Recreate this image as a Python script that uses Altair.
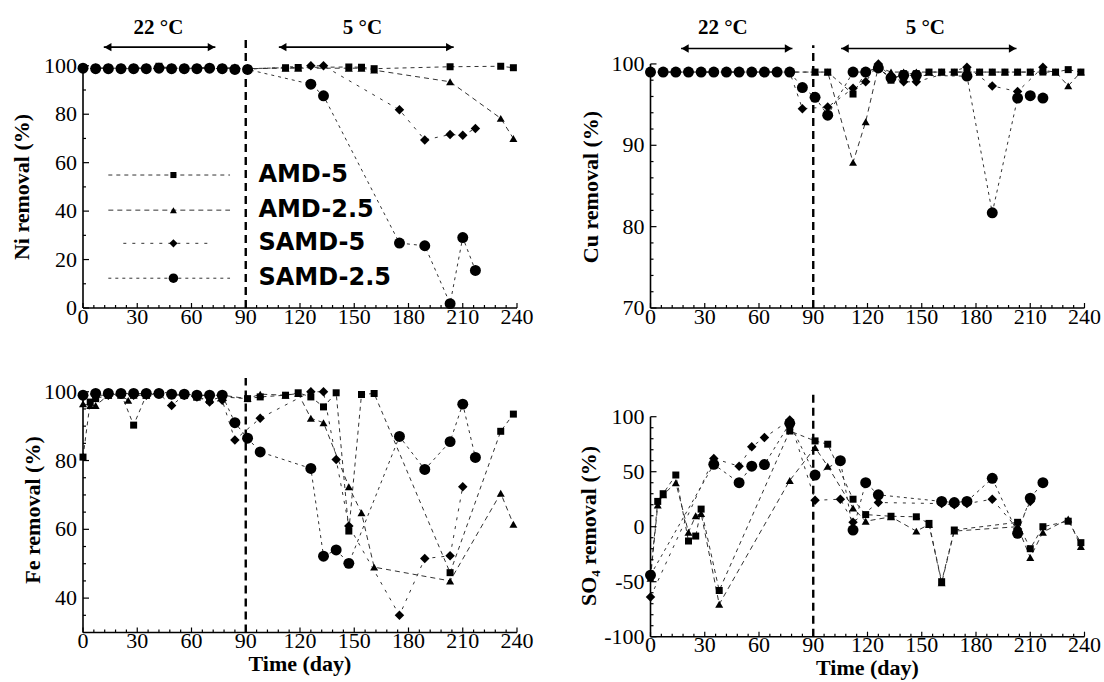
import altair as alt
import pandas as pd

SERIES = ["AMD-5", "AMD-2.5", "SAMD-5", "SAMD-2.5"]
SHAPES = ["square", "triangle-up", "diamond", "circle"]
SIZES = [49, 64, 90, 120]
DASHES = [[4, 4], [5, 4], [3, 6], [3, 4]]

SERIF = "Liberation Serif"
SANS = "DejaVu Sans"

# ---------------- Ni removal (%) ----------------
NI_AMD5_DAYS = [0, 7, 14, 21, 28, 35, 42, 49, 56, 63, 70, 77, 84, 91, 112, 119, 147, 154, 161, 203, 231, 238]
NI_AMD5 = [99, 99, 99, 99, 99, 99, 99.8, 99, 99, 99, 99.3, 99, 99, 98.8, 99.2, 99.3, 99.5, 99.4, 98.8, 99.6, 99.8, 99.2]
NI_AMD25_DAYS = [0, 7, 14, 21, 28, 35, 42, 49, 56, 63, 70, 77, 84, 91, 112, 119, 147, 154, 161, 203, 231, 238]
NI_AMD25 = [99, 99, 99, 99, 99, 99, 99.5, 99, 99, 99, 99.6, 99, 99, 98.8, 99, 99, 99, 99, 98.2, 93.4, 78.3, 70]
NI_SAMD5_DAYS = [0, 7, 14, 21, 28, 35, 42, 49, 56, 63, 70, 77, 84, 91, 126, 133, 175, 189, 203, 210, 217]
NI_SAMD5 = [99, 99, 99, 99, 99, 99, 99, 99, 99, 99, 99, 99, 99, 98.6, 100, 100, 81.8, 69.4, 71.6, 71.3, 74.1]
NI_SAMD25_DAYS = [0, 7, 14, 21, 28, 35, 42, 49, 56, 63, 70, 77, 84, 91, 126, 133, 175, 189, 203, 210, 217]
NI_SAMD25 = [99, 98.8, 98.8, 98.8, 98.8, 98.8, 99, 98.8, 98.8, 98.8, 99, 98.8, 98.5, 98.5, 92.4, 87.6, 26.8, 25.7, 1.8, 29.1, 15.5]

# ---------------- Cu removal (%) ----------------
CU_AMD5_DAYS = [0, 7, 14, 21, 28, 35, 42, 49, 56, 63, 70, 77, 91, 98, 112, 119, 126, 133, 140, 147, 154, 161,
                168, 175, 182, 189, 196, 203, 210, 217, 224, 231, 238]
CU_AMD5 = [99, 99, 99, 99, 99, 99, 99, 99, 99, 99, 99, 99, 99, 99, 96.3, 99, 99.6, 98.0, 98.8, 98.8, 99, 99,
           99, 99, 99, 99, 99, 99, 99, 99, 99, 99.3, 99]
CU_AMD25_DAYS = [0, 7, 14, 21, 28, 35, 42, 49, 56, 63, 70, 77, 91, 98, 112, 119, 126, 133, 140, 147, 154, 161,
                 168, 175, 182, 189, 196, 203, 210, 217, 224, 231, 238]
CU_AMD25 = [99, 99, 99, 99, 99, 99, 99, 99, 99, 99, 99, 99, 99, 99, 87.9, 92.9, 99.6, 99, 99, 99, 99, 99,
            99, 99, 99, 99, 99, 99, 99, 99.2, 99, 97.3, 99]
CU_SAMD5_DAYS = [0, 7, 14, 21, 28, 35, 42, 49, 56, 63, 70, 77, 84, 98, 112, 119, 126, 133, 140, 147, 175, 189, 203, 217]
CU_SAMD5 = [99, 99, 99, 99, 99, 99, 99, 99, 99, 99, 99, 99, 94.5, 94.7, 97, 97.8, 100, 98.4, 97.8, 97.8, 99.6, 97.3, 96.6, 99.6]
CU_SAMD25_DAYS = [0, 7, 14, 21, 28, 35, 42, 49, 56, 63, 70, 77, 84, 91, 98, 112, 119, 126, 133, 140, 147, 175,
                  189, 203, 210, 217]
CU_SAMD25 = [99, 99, 99, 99, 99, 99, 99, 99, 99, 99, 99, 99, 97.1, 95.9, 93.7, 99, 99, 99.5, 98.3, 98.6, 98.6, 98.5,
             81.7, 95.8, 96.1, 95.8]

# ---------------- Fe removal (%) ----------------
FE_AMD5_DAYS = [0, 4, 7, 14, 21, 28, 35, 42, 49, 56, 63, 70, 77, 91, 98, 112, 119, 126, 133, 140, 147, 154, 161,
                203, 231, 238]
FE_AMD5 = [81, 97, 98, 99, 99.5, 90.3, 99, 99.5, 99, 99, 98.5, 97.5, 98.5, 98, 98.5, 99, 99.7, 98.5, 95.6, 99.7,
           59.5, 99.2, 99.5, 47.4, 88.5, 93.5]
FE_AMD25_DAYS = [0, 4, 7, 14, 21, 25, 28, 35, 42, 49, 56, 63, 70, 77, 91, 98, 112, 119, 126, 133, 147, 154, 161,
                 203, 231, 238]
FE_AMD25 = [96.5, 96, 96, 99, 99, 97.5, 99, 99, 100, 99.5, 99, 98.5, 99.3, 99, 98, 99.3, 99, 99.5, 92.3, 91, 72.4,
            64.8, 49, 45, 70.5, 61.5]
FE_SAMD5_DAYS = [0, 7, 14, 21, 28, 35, 42, 49, 56, 63, 70, 77, 84, 98, 126, 133, 140, 147, 175, 189, 203, 210]
FE_SAMD5 = [99, 99, 99, 99.5, 99, 99, 99.5, 96, 99, 98.5, 97, 97.5, 86, 92.3, 100, 100, 80.3, 61, 35, 51.5, 52.3, 72.4]
FE_SAMD25_DAYS = [0, 7, 14, 21, 28, 35, 42, 49, 56, 63, 70, 77, 84, 91, 98, 126, 133, 140, 147, 175, 189, 203, 210, 217]
FE_SAMD25 = [99, 99.5, 99.5, 99.5, 99.5, 99.5, 99.5, 99.3, 99.3, 99, 99, 99, 91, 86.5, 82.5, 77.7, 52.2, 54, 50.1,
             87, 77.4, 85.5, 96.4, 80.9]

# ---------------- SO4 removal (%) ----------------
SO4_AMD5_DAYS = [0, 4, 7, 14, 21, 25, 28, 38, 77, 91, 98, 112, 119, 133, 147, 154, 161, 168, 203, 210, 217, 231, 238]
SO4_AMD5 = [-45, 23, 30, 47, -13, -8.5, 16, -58, 87, 78, 75, 25, 11, 9.5, 9, 3, -50, -3, 4, -20, 0, 5, -14.5]
SO4_AMD25_DAYS = [0, 4, 7, 14, 21, 25, 28, 38, 77, 91, 98, 112, 119, 133, 147, 154, 161, 168, 203, 210, 217, 231, 238]
SO4_AMD25 = [-47, 19.7, 29, 40, -5, 10, 12, -70.5, 42, 72, 55, 17, 5, 9, -4, 2, -51, -4, 0, -28, -5, 7, -18]
SO4_SAMD5_DAYS = [0, 35, 49, 56, 63, 77, 91, 105, 112, 126, 161, 168, 175, 189, 203, 210]
SO4_SAMD5 = [-64, 62, 55, 72.7, 81, 97, 24, 25, 4, 22, 21, 20, 21, 25, -2, 23]
SO4_SAMD25_DAYS = [0, 35, 49, 56, 63, 77, 91, 105, 112, 119, 126, 161, 168, 175, 189, 203, 210, 217]
SO4_SAMD25 = [-44, 56.7, 40, 55, 56.5, 94, 47, 60, -3, 40, 29, 23, 22, 23, 44, -6, 26, 40]

# ---------------- axes / annotations ----------------
X_MAJOR = [0, 30, 60, 90, 120, 150, 180, 210, 240]
X_LABELS = ["0", "30", "60", "90", "120", "150", "180", "210", "240"]
X_MINOR = [d for d in range(0, 241, 6) if d % 30 != 0]
NI_MAJOR = [0, 20, 40, 60, 80, 100]
NI_LABELS = ["0", "20", "40", "60", "80", "100"]
NI_MINOR = [10, 30, 50, 70, 90]
CU_MAJOR = [70, 80, 90, 100]
CU_LABELS = ["70", "80", "90", "100"]
CU_MINOR = [v for v in range(72, 100, 2) if v % 10 != 0]
FE_MAJOR = [40, 60, 80, 100]
FE_LABELS = ["40", "60", "80", "100"]
FE_MINOR = [35, 45, 50, 55, 65, 70, 75, 85, 90, 95]
SO4_MAJOR = [-100, -50, 0, 50, 100]
SO4_LABELS = ["-100", "-50", "0", "50", "100"]
SO4_MINOR = [v for v in range(-90, 100, 10) if v % 50 != 0]

LEG_Y = [54.9, 40.4, 26.7, 12.3]
LEG_X1 = [14, 14, 22.3, 14]
LEG_X2 = [81.3, 81.3, 69.3, 81.3]
LEG_XM = [50, 50, 50, 50]
LEG_XT = [97, 97, 97, 97]

W = 434
H_TOP = 288


def long_df(parts):
    rows = []
    for s, days, vals in parts:
        for d, v in zip(days, vals):
            rows.append({"day": d, "v": v, "series": s})
    return pd.DataFrame(rows)


def make_panel(df, ymin, ytop, height, y_major, y_labels, y_minor, ytitle, title_x, title_y, vtop,
               xtitle=False, arrows=None, legend=False):
    xs = alt.Scale(domain=[0, 240], nice=False, zero=False)
    ys = alt.Scale(domain=[ymin, ytop], nice=False, zero=False)

    def X(f):
        return alt.X(f, scale=xs, axis=None)

    def Y(f):
        return alt.Y(f, scale=ys, axis=None)

    layers = []
    base = alt.Chart(df)
    # lines
    for s, dash in zip(SERIES, DASHES):
        layers.append(
            base.transform_filter(alt.datum.series == s)
            .mark_line(color="#333333", strokeWidth=1, strokeDash=dash)
            .encode(x=X("day:Q"), y=Y("v:Q"))
        )
    # points
    for s, shp, sz in zip(SERIES, SHAPES, SIZES):
        layers.append(
            base.transform_filter(alt.datum.series == s)
            .mark_point(shape=shp, size=sz, filled=True, color="black", opacity=1, strokeWidth=0)
            .encode(x=X("day:Q"), y=Y("v:Q"))
        )
    # vertical dashed line at day 90
    vdf = pd.DataFrame({"x": [90], "y1": [ymin], "y2": [vtop]})
    layers.append(
        alt.Chart(vdf).mark_rule(color="black", strokeWidth=2.4, strokeDash=[8, 5])
        .encode(x=X("x:Q"), y=Y("y1:Q"), y2="y2:Q")
    )
    # axis lines
    adf = pd.DataFrame({"x": [0], "x2": [240], "y1": [ymin], "y2": [100]})
    layers.append(
        alt.Chart(adf).mark_rule(color="black", strokeWidth=1.6)
        .encode(x=X("x:Q"), y=Y("y1:Q"), y2="y2:Q")
    )
    layers.append(
        alt.Chart(adf).mark_rule(color="black", strokeWidth=1.6)
        .encode(x=X("x:Q"), x2="x2:Q", y=Y("y1:Q"))
    )
    # inward ticks
    for vals, ln in ((X_MAJOR, 5), (X_MINOR, 3)):
        layers.append(
            alt.Chart(pd.DataFrame({"t": vals})).mark_rule(color="black", strokeWidth=1.2)
            .encode(x=X("t:Q"), y=alt.value(height), y2=alt.value(height - ln))
        )
    for vals, ln in ((y_major, 6), (y_minor, 3)):
        layers.append(
            alt.Chart(pd.DataFrame({"t": vals})).mark_rule(color="black", strokeWidth=1.2)
            .encode(y=Y("t:Q"), x=alt.value(0), x2=alt.value(ln))
        )
    # tick labels
    layers.append(
        alt.Chart(pd.DataFrame({"t": X_MAJOR, "lab": X_LABELS}))
        .mark_text(font=SERIF, fontSize=22, color="black", align="center", baseline="alphabetic")
        .encode(x=X("t:Q"), y=alt.value(height + 15.5), text="lab:N")
    )
    layers.append(
        alt.Chart(pd.DataFrame({"t": y_major, "lab": y_labels}))
        .mark_text(font=SERIF, fontSize=22, color="black", align="right", baseline="middle")
        .encode(y=Y("t:Q"), x=alt.value(-6), text="lab:N")
    )
    # axis titles
    layers.append(
        alt.Chart(pd.DataFrame({"lab": [ytitle]}))
        .mark_text(font=SERIF, fontSize=22, fontWeight="bold", color="black", align="center",
                   baseline="middle", angle=270)
        .encode(x=alt.value(title_x), y=alt.value(title_y), text="lab:N")
    )
    if xtitle:
        layers.append(
            alt.Chart(pd.DataFrame({"lab": ["Time (day)"]}))
            .mark_text(font=SERIF, fontSize=22, fontWeight="bold", color="black", align="center",
                       baseline="alphabetic")
            .encode(x=alt.value(W / 2), y=alt.value(height + 38.5), text="lab:N")
        )
    # temperature arrows
    if arrows is not None:
        adf = pd.DataFrame(arrows)
        layers.append(
            alt.Chart(adf).mark_rule(color="black", strokeWidth=1.6)
            .encode(x=X("x1:Q"), x2="x2:Q", y=Y("ya:Q"))
        )
        layers.append(
            alt.Chart(adf).mark_point(shape="triangle-left", size=70, filled=True, color="black",
                                      opacity=1, xOffset=4)
            .encode(x=X("x1:Q"), y=Y("ya:Q"))
        )
        layers.append(
            alt.Chart(adf).mark_point(shape="triangle-right", size=70, filled=True, color="black",
                                      opacity=1, xOffset=-4)
            .encode(x=X("x2:Q"), y=Y("ya:Q"))
        )
        layers.append(
            alt.Chart(adf).mark_text(font=SERIF, fontSize=21, fontWeight="bold", color="black",
                                     align="center", baseline="middle")
            .encode(x=X("xt:Q"), y=Y("yt:Q"), text="label:N")
        )
    # legend
    if legend:
        ldf = pd.DataFrame({"series": SERIES, "y": LEG_Y, "x1": LEG_X1, "x2": LEG_X2,
                            "xm": LEG_XM, "xt": LEG_XT})
        for s, dash, shp, sz in zip(SERIES, DASHES, SHAPES, SIZES):
            sub = alt.Chart(ldf).transform_filter(alt.datum.series == s)
            layers.append(
                sub.mark_rule(color="#333333", strokeWidth=1, strokeDash=dash)
                .encode(x=X("x1:Q"), x2="x2:Q", y=Y("y:Q"))
            )
            layers.append(
                sub.mark_point(shape=shp, size=sz * 0.75, filled=True, color="black", opacity=1,
                               strokeWidth=0)
                .encode(x=X("xm:Q"), y=Y("y:Q"))
            )
        layers.append(
            alt.Chart(ldf).mark_text(font=SANS, fontSize=24, fontWeight="bold", color="black",
                                     align="left", baseline="middle")
            .encode(x=X("xt:Q"), y=Y("y:Q"), text="series:N")
        )
    return alt.layer(*layers).properties(width=W, height=height)


ni_df = long_df([("AMD-5", NI_AMD5_DAYS, NI_AMD5), ("AMD-2.5", NI_AMD25_DAYS, NI_AMD25),
                 ("SAMD-5", NI_SAMD5_DAYS, NI_SAMD5), ("SAMD-2.5", NI_SAMD25_DAYS, NI_SAMD25)])
cu_df = long_df([("AMD-5", CU_AMD5_DAYS, CU_AMD5), ("AMD-2.5", CU_AMD25_DAYS, CU_AMD25),
                 ("SAMD-5", CU_SAMD5_DAYS, CU_SAMD5), ("SAMD-2.5", CU_SAMD25_DAYS, CU_SAMD25)])
fe_df = long_df([("AMD-5", FE_AMD5_DAYS, FE_AMD5), ("AMD-2.5", FE_AMD25_DAYS, FE_AMD25),
                 ("SAMD-5", FE_SAMD5_DAYS, FE_SAMD5), ("SAMD-2.5", FE_SAMD25_DAYS, FE_SAMD25)])
so4_df = long_df([("AMD-5", SO4_AMD5_DAYS, SO4_AMD5), ("AMD-2.5", SO4_AMD25_DAYS, SO4_AMD25),
                  ("SAMD-5", SO4_SAMD5_DAYS, SO4_SAMD5), ("SAMD-2.5", SO4_SAMD25_DAYS, SO4_SAMD25)])

NI_ARROWS = {"x1": [11.5, 108.3], "x2": [73.2, 205], "ya": [107.7, 107.7],
             "xt": [41.7, 154.5], "yt": [115.6, 115.6], "label": ["22 °C", "5 °C"]}
CU_ARROWS = {"x1": [16.9, 105.4], "x2": [78.5, 202.4], "ya": [101.9, 101.9],
             "xt": [40, 152], "yt": [104.4, 104.4], "label": ["22 °C", "5 °C"]}

ni = make_panel(ni_df, 0, 118.9, H_TOP, NI_MAJOR, NI_LABELS, NI_MINOR, "Ni removal (%)", -61, 167, 111.4,
                arrows=NI_ARROWS, legend=True)
cu = make_panel(cu_df, 70, 105.4, H_TOP, CU_MAJOR, CU_LABELS, CU_MINOR, "Cu removal (%)", -60, 167, 102.3,
                arrows=CU_ARROWS)
fe = make_panel(fe_df, 30, 104, 254.5, FE_MAJOR, FE_LABELS, FE_MINOR, "Fe removal (%)", -50, 132, 104,
                xtitle=True)
so4 = make_panel(so4_df, -100, 135.2, 258.7, SO4_MAJOR, SO4_LABELS, SO4_MINOR, "SO\u2084 removal (%)", -62, 148,
                 120.6, xtitle=True)

chart = alt.concat(ni, cu, fe, so4, columns=2, spacing={"row": 70, "column": 133.5}, bounds="flush").properties(
    padding={"left": 11, "top": 16, "right": 2, "bottom": 2}, background="white"
).configure_view(stroke=None)

chart.save("out.html", embed_options={"renderer": "svg", "actions": False})
